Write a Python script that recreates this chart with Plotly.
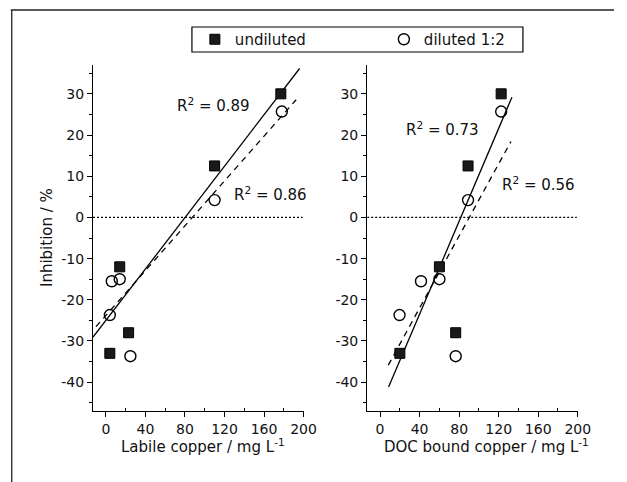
import plotly.graph_objects as go

W, H = 627, 482

# ---- data ----
undiluted_inhibition = [-33, -12, -28, 12.5, 30]
undiluted_labile = [4, 14, 23, 110, 177]
undiluted_doc = [20, 60, 76.5, 89, 122.5]

diluted_inhibition = [-23.7, -15.5, -15, -33.7, 4.2, 25.7]
diluted_labile = [4, 6, 14, 24.8, 110, 178]
diluted_doc = [19.7, 41.4, 60, 76.5, 89, 122.5]

# fitted lines: (slope, intercept, x start, x end)
fit_labile_undiluted = (0.312, -25.0, -13, 196)
fit_labile_diluted = (0.272, -23.8, -10, 192.5)
fit_doc_undiluted = (0.564, -46.05, 8.6, 133.4)
fit_doc_diluted = (0.4376, -39.5, 8.3, 132.4)

r2_labels = ["R<sup>2</sup> = 0.89", "R<sup>2</sup> = 0.86", "R<sup>2</sup> = 0.73", "R<sup>2</sup> = 0.56"]
r2_pos = [(109, 27.4, "x", "y"), (167, 5.7, "x", "y"), (63, 21.5, "x2", "y2"), (160, 8.2, "x2", "y2")]

x_ticks = [0, 40, 80, 120, 160, 200]
x_tick_labels = ["0", "40", "80", "120", "160", "200"]
y_ticks = [-40, -30, -20, -10, 0, 10, 20, 30]
y_tick_labels = ["-40", "-30", "-20", "-10", "0", "10", "20", "30"]
x_range = [-13, 200]
y_range = [-47, 37]

FONT = "DejaVu Sans, Liberation Sans, Arial, sans-serif"
INK = "#111111"

fig = go.Figure()

sq = dict(symbol="square", size=10, color="#1a1a1a", line=dict(color="#000", width=1))
ci = dict(symbol="circle-open", size=11, color="#000", line=dict(color="#000", width=1.4))

def fit_line(fit, xa, ya, dash):
    m, b, x0, x1 = fit
    xs = [x0, x1]
    ys = [m * x + b for x in xs]
    fig.add_trace(go.Scatter(x=xs, y=ys, mode="lines", xaxis=xa, yaxis=ya,
                             line=dict(color="#000", width=1.3, dash=dash),
                             showlegend=False, hoverinfo="skip"))

for xa, ya in (("x", "y"), ("x2", "y2")):
    fig.add_trace(go.Scatter(x=[x_range[0], 199], y=[0, 0], mode="lines", xaxis=xa, yaxis=ya,
                             line=dict(color="#000", width=1.2, dash="2px,2px"),
                             showlegend=False, hoverinfo="skip"))

fit_line(fit_labile_undiluted, "x", "y", "solid")
fit_line(fit_labile_diluted, "x", "y", "6px,5px")
fit_line(fit_doc_undiluted, "x2", "y2", "solid")
fit_line(fit_doc_diluted, "x2", "y2", "6px,5px")

fig.add_trace(go.Scatter(x=undiluted_labile, y=undiluted_inhibition, mode="markers",
                         marker=sq, name="undiluted", xaxis="x", yaxis="y"))
fig.add_trace(go.Scatter(x=diluted_labile, y=diluted_inhibition, mode="markers",
                         marker=ci, name="diluted 1:2", xaxis="x", yaxis="y"))
fig.add_trace(go.Scatter(x=undiluted_doc, y=undiluted_inhibition, mode="markers",
                         marker=sq, name="undiluted", xaxis="x2", yaxis="y2", showlegend=False))
fig.add_trace(go.Scatter(x=diluted_doc, y=diluted_inhibition, mode="markers",
                         marker=ci, name="diluted 1:2", xaxis="x2", yaxis="y2", showlegend=False))

ydom = [1 - 411 / H, 1 - 65 / H]

def xaxis(dom, anchor):
    return dict(domain=dom, anchor=anchor, range=x_range, tickvals=x_ticks, ticktext=x_tick_labels,
                showgrid=False, zeroline=False, showline=True, linecolor="#000", linewidth=1.3,
                ticks="outside", ticklen=5, tickwidth=1.2, tickcolor="#000",
                minor=dict(tickvals=[20, 60, 100, 140, 180], ticks="inside", ticklen=3,
                           tickwidth=1, tickcolor="#000"),
                tickfont=dict(family=FONT, size=14, color=INK))

def yaxis(anchor):
    return dict(domain=ydom, anchor=anchor, range=y_range, tickvals=y_ticks, ticktext=y_tick_labels,
                showgrid=False, zeroline=False, showline=True, linecolor="#000", linewidth=1.3,
                ticks="outside", ticklen=5, tickwidth=1.2, tickcolor="#000",
                minor=dict(tickvals=[-45, -35, -25, -15, -5, 5, 15, 25, 35], ticks="outside",
                           ticklen=3, tickwidth=1, tickcolor="#000"),
                tickfont=dict(family=FONT, size=14, color=INK))

annotations = []
for txt, (ax, ay, xr, yr) in zip(r2_labels, r2_pos):
    annotations.append(dict(text=txt, x=ax, y=ay, xref=xr, yref=yr, showarrow=False,
                            xanchor="center", yanchor="middle",
                            font=dict(family=FONT, size=15, color=INK)))
annotations += [
    dict(text="Inhibition / %", x=48 / W, y=1 - 238 / H, xref="paper", yref="paper",
         xanchor="center", yanchor="middle",
         textangle=-90, showarrow=False, font=dict(family=FONT, size=15, color=INK)),
    dict(text="Labile copper / mg L<sup>-1</sup>", x=207 / W, y=1 - 446 / H, xref="paper",
         yref="paper", xanchor="center", yanchor="middle", showarrow=False,
         font=dict(family=FONT, size=15, color=INK)),
    dict(text="DOC bound copper / mg L<sup>-1</sup>", x=497 / W, y=1 - 446 / H, xref="paper",
         yref="paper", xanchor="center", yanchor="middle", showarrow=False,
         font=dict(family=FONT, size=15, color=INK)),
]

shapes = [
    dict(type="line", xref="paper", yref="paper", x0=11 / W, x1=1, y0=1 - 10 / H, y1=1 - 10 / H,
         line=dict(color="#222", width=1.3)),
    dict(type="line", xref="paper", yref="paper", x0=12 / W, x1=12 / W, y0=0, y1=1 - 10 / H,
         line=dict(color="#222", width=1.3)),
    dict(type="rect", xref="paper", yref="paper", x0=196 / W, x1=534 / W,
         y0=1 - 52 / H, y1=1 - 27 / H, line=dict(color="#000", width=1.2)),
]

fig.update_layout(
    width=W, height=H, margin=dict(l=0, r=0, t=0, b=0),
    paper_bgcolor="white", plot_bgcolor="white",
    xaxis=xaxis([95 / W, 310 / W], "y"), yaxis=yaxis("x"),
    xaxis2=xaxis([375 / W, 590 / W], "y2"), yaxis2=yaxis("x2"),
    showlegend=True,
    legend=dict(orientation="h", x=199 / W, y=1 - 39.5 / H, xanchor="left", yanchor="middle",
                borderwidth=0, bgcolor="rgba(0,0,0,0)",
                font=dict(family=FONT, size=15, color=INK),
                entrywidth=144, entrywidthmode="pixels", itemwidth=30, tracegroupgap=0),
    annotations=annotations, shapes=shapes,
)

fig.write_html("out.html")
